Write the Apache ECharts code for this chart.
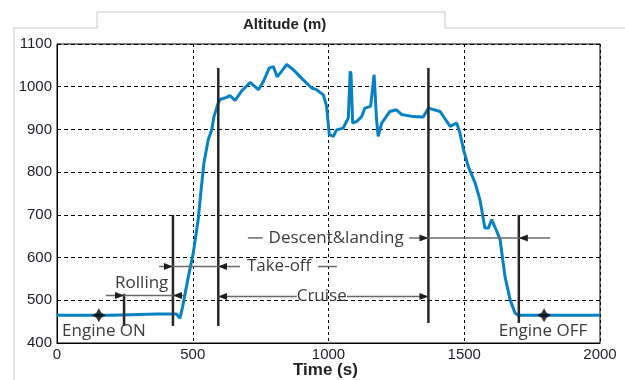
<!DOCTYPE html>
<html>
<head>
<meta charset="utf-8">
<script src="https://cdn.jsdelivr.net/npm/echarts@6/dist/echarts.min.js"></script>
<style>
  html, body { margin: 0; padding: 0; background: #fff; }
  #main { width: 625px; height: 380px; }
</style>
</head>
<body>
<div id="main"></div>
<script>
// altitude trace
var timeS = [0, 200, 370, 440, 453, 463, 484, 502, 520, 531, 541, 557, 570, 578, 594, 600, 625, 637, 656, 680,
  711, 742, 760, 782, 797, 811, 827, 846, 870, 907, 938, 956, 981, 993, 1003, 1018, 1030, 1054, 1073, 1080,
  1083, 1089, 1104, 1122, 1134, 1155, 1168, 1172, 1177, 1183, 1196, 1226, 1250, 1269, 1312, 1349, 1368, 1411, 1448, 1472,
  1484, 1497, 1515, 1540, 1558, 1576, 1589, 1601, 1620, 1632, 1650, 1669, 1687, 1699, 2000];
var altitudeM = [465, 465, 468, 468, 458, 486, 556, 611, 689, 760, 821, 876, 899, 930, 962, 970, 975, 979, 968, 990,
  1010, 993, 1012, 1044, 1047, 1023, 1036, 1052, 1040, 1016, 997, 993, 981, 954, 888, 884, 899, 903, 927, 1036,
  1030, 915, 919, 930, 950, 954, 1028, 1025, 923, 884, 915, 942, 946, 935, 930, 929, 950, 942, 907, 915,
  892, 853, 813, 775, 735, 669, 669, 689, 661, 642, 556, 501, 470, 465, 465];

var xTicks = [0, 500, 1000, 1500, 2000];
var yTicks = [400, 500, 600, 700, 800, 900, 1000, 1100];

// phase boundary bars
var phaseT = [247, 427, 594, 1368, 1701];
var phaseTop = [515, 700, 1044, 1044, 700];
var phaseBottom = [440, 440, 440, 447, 447];

// dimension lines: [start, end, altitude]
var segStart = [180, 376, 961, 593, 1068, 703, 1297];
var segEnd = [471, 674, 1031, 883, 1368, 758, 1816];
var segAlt = [511, 579, 579, 509, 509, 646, 646];

// arrow heads: tip time, altitude, direction (+1 right, -1 left)
var headT = [247, 427, 427, 593, 593, 1368, 1368, 1701];
var headAlt = [511, 511, 579, 579, 509, 509, 646, 646];
var headDir = [1, -1, 1, -1, -1, 1, 1, -1];

var labelText = ["Rolling", "Take-off", "Cruise", "Descent&landing", "Engine ON", "Engine OFF"];
var labelT = [312, 818, 975, 1028, 173, 1790];
var labelAlt = [540, 579, 509, 646, 427, 427];

var starT = [154, 1794];
var starAlt = [465, 465];

var chart = echarts.init(document.getElementById('main'));

var lineData = timeS.map(function (t, i) { return [t, altitudeM[i]]; });
var starPath = 'path://M0,-10 L3.6,-3.6 L10,0 L3.6,3.6 L0,10 L-3.6,3.6 L-10,0 L-3.6,-3.6 Z';
var font = '"Open Sans", sans-serif';
var plain = function (v) { return String(v); };

var option = {
  animation: false,
  backgroundColor: '#fff',
  grid: { left: 57, right: 25, top: 44, bottom: 37, show: true, borderColor: '#000', borderWidth: 1 },
  graphic: [
    {
      type: 'polyline', silent: true,
      shape: { points: [[13, 28], [97, 28], [97, 12], [445, 12], [445, 28], [625, 28]] },
      style: { stroke: '#c8c8c8', lineWidth: 1, fill: null }
    },
    {
      type: 'line', silent: true,
      shape: { x1: 14, y1: 28, x2: 14, y2: 380 },
      style: { stroke: '#c8c8c8', lineWidth: 1 }
    },
    {
      type: 'text', left: 243, top: 17,
      style: { text: 'Altitude (m)', font: 'bold 15px "Liberation Sans", Arial, sans-serif', fill: '#222' }
    },
    {
      type: 'text', left: 293, top: 362,
      style: { text: 'Time (s)', font: 'bold 17px "Liberation Sans", Arial, sans-serif', fill: '#222' }
    }
  ],
  xAxis: {
    type: 'value', min: xTicks[0], max: xTicks[xTicks.length - 1], interval: 500,
    axisLine: { lineStyle: { color: '#000' } },
    axisTick: { show: false },
    axisLabel: { color: '#1c1c28', fontSize: 15, fontFamily: '"Liberation Sans", Arial', margin: 4, formatter: plain },
    splitLine: { show: true, lineStyle: { color: '#000', type: [3, 3], width: 1 } }
  },
  yAxis: {
    type: 'value', min: yTicks[0], max: yTicks[yTicks.length - 1], interval: 100,
    axisLine: { show: true, lineStyle: { color: '#000' } },
    axisTick: { show: false },
    axisLabel: { color: '#1c1c28', fontSize: 15, fontFamily: '"Liberation Sans", Arial', margin: 5, formatter: plain },
    splitLine: { show: true, lineStyle: { color: '#000', type: [4, 3], width: 1 } }
  },
  series: [
    {
      type: 'line', data: lineData, showSymbol: false, z: 3,
      lineStyle: { color: '#0681c4', width: 3 }
    },
    {
      type: 'custom', z: 4,
      data: phaseT.map(function (t, i) { return [t, phaseTop[i], phaseBottom[i]]; }),
      renderItem: function (params, api) {
        var a = api.coord([api.value(0), api.value(1)]);
        var b = api.coord([api.value(0), api.value(2)]);
        return { type: 'line', shape: { x1: a[0], y1: a[1], x2: b[0], y2: b[1] },
          style: { stroke: '#262626', lineWidth: 2.5 } };
      }
    },
    {
      type: 'custom', z: 4,
      data: segStart.map(function (s, i) { return [s, segEnd[i], segAlt[i]]; }),
      renderItem: function (params, api) {
        var a = api.coord([api.value(0), api.value(2)]);
        var b = api.coord([api.value(1), api.value(2)]);
        return { type: 'line', shape: { x1: a[0], y1: a[1], x2: b[0], y2: b[1] },
          style: { stroke: '#6a6a6a', lineWidth: 1.5 } };
      }
    },
    {
      type: 'custom', z: 5,
      data: headT.map(function (t, i) { return [t, headAlt[i], headDir[i]]; }),
      renderItem: function (params, api) {
        var p = api.coord([api.value(0), api.value(1)]);
        var d = api.value(2);
        return { type: 'polygon',
          shape: { points: [[p[0], p[1]], [p[0] - d * 9, p[1] - 3.5], [p[0] - d * 9, p[1] + 3.5]] },
          style: { fill: '#1e1e1e' } };
      }
    },
    {
      type: 'custom', z: 6,
      data: labelT.map(function (t, i) { return [t, labelAlt[i]]; }),
      renderItem: function (params, api) {
        var p = api.coord([api.value(0), api.value(1)]);
        return { type: 'text', x: p[0], y: p[1],
          style: { text: labelText[params.dataIndex], font: '17px ' + font, fill: '#3c3c3c',
            align: 'center', verticalAlign: 'middle' } };
      }
    },
    {
      type: 'scatter', z: 7,
      data: starT.map(function (t, i) { return [t, starAlt[i]]; }),
      symbol: starPath, symbolSize: 14,
      itemStyle: { color: '#000' }
    }
  ]
};

chart.setOption(option);
</script>
</body>
</html>
